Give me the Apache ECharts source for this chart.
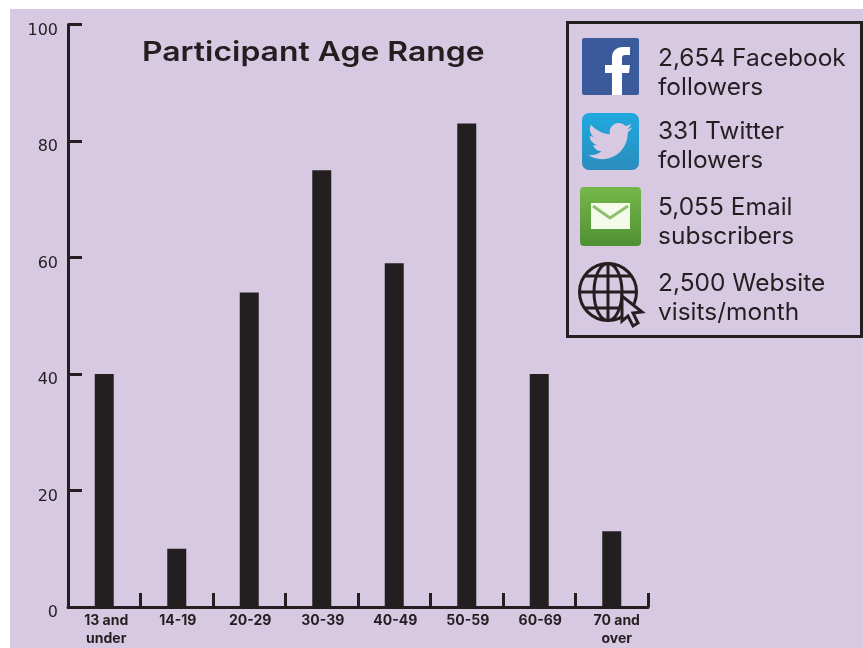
<!DOCTYPE html>
<html>
<head>
<meta charset="utf-8">
<script src="https://cdn.jsdelivr.net/npm/echarts@6/dist/echarts.min.js"></script>
<style>
  html, body { margin: 0; padding: 0; background: #fff; }
  #main { width: 863px; height: 648px; }
</style>
</head>
<body>
<div id="main"></div>
<script>
const ageRanges = ['13 and\nunder', '14-19', '20-29', '30-39', '40-49', '50-59', '60-69', '70 and\nover'];
const participants = [40, 10, 54, 75, 59, 83, 40, 13];
const statLines = [
  ['2,654 Facebook', 'followers'],
  ['331 Twitter', 'followers'],
  ['5,055 Email', 'subscribers'],
  ['2,500 Website', 'visits/month']
];
const titleText = 'Participant Age Range';

const ink = '#231f20';
const font = 'Inter';
const birdPath = 'M24 4.6C23.1 5 22.2 5.3 21.2 5.4C22.2 4.8 23 3.8 23.4 2.6C22.4 3.2 21.4 3.6 20.2 3.8C19.3 2.8 18 2.2 16.6 2.2C13.9 2.2 11.7 4.4 11.7 7.1C11.7 7.5 11.7 7.9 11.8 8.2C7.7 8 4.1 6 1.7 3.1C1.3 3.8 1 4.7 1 5.6C1 7.3 1.9 8.8 3.2 9.7C2.4 9.7 1.6 9.4 1 9.1V9.2C1 11.6 2.7 13.5 4.9 14C4.5 14.1 4.1 14.2 3.6 14.2C3.3 14.2 3 14.2 2.7 14.1C3.3 16 5.1 17.4 7.3 17.5C5.6 18.8 3.5 19.6 1.2 19.6C0.8 19.6 0.4 19.6 0 19.5C2.2 20.9 4.8 21.7 7.5 21.7C16.6 21.7 21.5 14.2 21.5 7.7V7.1C22.5 6.4 23.3 5.6 24 4.6Z';
const fbPath = 'M612 95V73H605V65H612V58C612 51 616 47 623 47H630V55H625C623 55 622 56 622 58V65H630L629 73H622V95Z';

// the graphic component has no plain path type, so register the icon shapes
echarts.graphic.registerShape('birdIcon', echarts.graphic.extendPath(birdPath, {}));
echarts.graphic.registerShape('fbIcon', echarts.graphic.extendPath(fbPath, {}));

var myChart = echarts.init(document.getElementById('main'), null, { renderer: 'canvas' });

// side panel: text rows
var statTexts = [];
var rowY = [58.5, 131.5, 207.5, 283.5];
statLines.forEach(function (lines, i) {
  lines.forEach(function (line, j) {
    statTexts.push({
      type: 'text', x: 658, y: rowY[i] + j * 29.5, z: 5, scaleX: 1.02,
      style: { text: line, fill: ink, font: '400 24px ' + font, verticalAlign: 'middle' }
    });
  });
});

// globe icon lines
var globe = { type: 'group', z: 5, children: [
  { type: 'circle', shape: { cx: 608, cy: 292, r: 28.5 }, style: { fill: 'none', stroke: ink, lineWidth: 3 } },
  { type: 'ellipse', shape: { cx: 608, cy: 292, rx: 14, ry: 28.5 }, style: { fill: 'none', stroke: ink, lineWidth: 3 } },
  { type: 'line', shape: { x1: 608, y1: 264, x2: 608, y2: 320 }, style: { stroke: ink, lineWidth: 3 } },
  { type: 'line', shape: { x1: 580, y1: 292, x2: 636, y2: 292 }, style: { stroke: ink, lineWidth: 3 } },
  { type: 'line', shape: { x1: 585, y1: 276, x2: 631, y2: 276 }, style: { stroke: ink, lineWidth: 3 } },
  { type: 'line', shape: { x1: 585, y1: 308, x2: 631, y2: 308 }, style: { stroke: ink, lineWidth: 3 } },
  { type: 'polygon', z: 6, shape: { points: [[622, 296], [622, 321], [628, 316], [633, 326], [638, 323], [633, 313], [642, 312]] },
    style: { fill: '#d8c9e2', stroke: ink, lineWidth: 3 } }
] };

// labels sit a little right of the bars in the original, more so at the end
function xLabel(value, index) {
  var tag = index === ageRanges.length - 1 ? 'far' : index === 0 ? 'near' : 'mid';
  return value.split('\n').map(function (s) { return '{' + tag + '|' + s + '}'; }).join('\n');
}
var xLabelBase = { color: ink, fontFamily: font, fontWeight: 700, fontSize: 14, lineHeight: 18 };

var option = {
  animation: false,
  backgroundColor: '#fff',
  grid: { left: 68, right: 215, top: 24.5, bottom: 41, containLabel: false },
  xAxis: {
    type: 'category',
    data: ageRanges,
    axisLine: { lineStyle: { color: ink, width: 3 } },
    axisTick: { show: true, inside: true, length: 14, lineStyle: { color: ink, width: 3 } },
    axisLabel: {
      interval: 0, margin: 5, formatter: xLabel,
      rich: {
        near: Object.assign({ padding: [0, 0, 0, 4] }, xLabelBase),
        mid: Object.assign({ padding: [0, 0, 0, 2] }, xLabelBase),
        far: Object.assign({ padding: [0, 0, 0, 10] }, xLabelBase)
      }
    }
  },
  yAxis: {
    type: 'value', min: 0, max: 100, interval: 20,
    splitLine: { show: false },
    axisLine: { show: true, lineStyle: { color: ink, width: 3 } },
    axisTick: { show: true, inside: true, length: 14, lineStyle: { color: ink, width: 3 } },
    axisLabel: {
      margin: 10, formatter: '{n|{value}}',
      rich: { n: { color: ink, fontFamily: 'DejaVu Sans', fontSize: 16, padding: [12, 0, 0, 0] } }
    }
  },
  series: [{
    type: 'bar',
    data: participants,
    barWidth: 19,
    itemStyle: { color: ink }
  }],
  graphic: [
    { type: 'rect', z: -10, silent: true, shape: { x: 10, y: 9, width: 853, height: 639 }, style: { fill: '#d8c9e2' } },
    { type: 'text', x: 142, y: 52.5, z: 5, scaleX: 1.16,
      style: { text: titleText, fill: ink, font: '600 27.5px ' + font, verticalAlign: 'middle' } },
    { type: 'rect', z: 4, shape: { x: 567.5, y: 22.5, width: 294, height: 314 }, style: { fill: 'none', stroke: ink, lineWidth: 3 } },
    // facebook
    { type: 'rect', z: 5, shape: { x: 582, y: 38, width: 57, height: 57, r: 2 }, style: { fill: '#3b5a9b' } },
    { type: 'fbIcon', z: 6, style: { fill: '#fff' } },
    // twitter
    { type: 'rect', z: 5, shape: { x: 582, y: 113, width: 57, height: 57, r: 7 },
      style: { fill: new echarts.graphic.LinearGradient(0, 0, 0, 1, [{ offset: 0, color: '#20a9e0' }, { offset: 1, color: '#2a8dbd' }]) } },
    { type: 'birdIcon', z: 6, x: 588, y: 119, scaleX: 1.85, scaleY: 1.85, style: { fill: '#d8c9e2' } },
    // email
    { type: 'rect', z: 5, shape: { x: 580, y: 187, width: 61, height: 59, r: 4 },
      style: { fill: new echarts.graphic.LinearGradient(0, 0, 0, 1, [{ offset: 0, color: '#76b74a' }, { offset: 1, color: '#4f9133' }]) } },
    { type: 'rect', z: 6, shape: { x: 591, y: 203, width: 39, height: 26 }, style: { fill: '#f4fbea' } },
    { type: 'polyline', z: 7, shape: { points: [[593, 206], [610, 218], [628, 206]] }, style: { fill: 'none', stroke: '#8fbf70', lineWidth: 3 } },
    globe
  ].concat(statTexts)
};

option && myChart.setOption(option);
</script>
</body>
</html>
